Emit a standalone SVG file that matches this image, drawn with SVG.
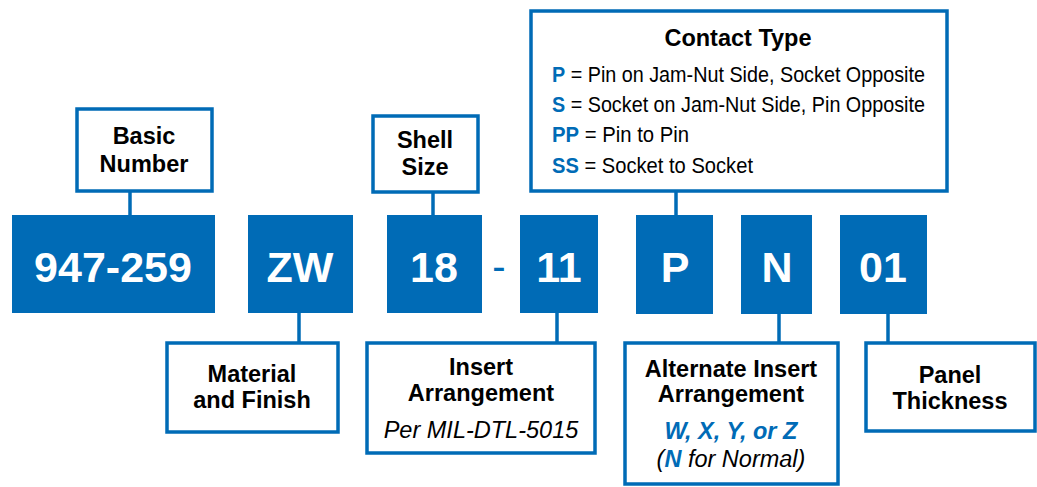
<svg xmlns="http://www.w3.org/2000/svg" width="1037" height="487" viewBox="0 0 1037 487">
<style>
.code{fill:#006BB6}
.codetxt{font-family:"Liberation Sans",Arial,sans-serif;font-weight:bold;font-size:43px;fill:#fff;text-anchor:middle}
.box{fill:#fff;stroke:#006BB6;stroke-width:3.5}
.lbl{font-family:"Liberation Sans",Arial,sans-serif;font-weight:bold;font-size:23.5px;fill:#000;text-anchor:middle}
.it{font-family:"Liberation Sans",Arial,sans-serif;font-style:italic;font-size:23.5px;fill:#000;text-anchor:middle}
.reg{font-family:"Liberation Sans",Arial,sans-serif;font-size:21.5px;fill:#000}
.blue{fill:#006BB6;font-weight:bold}
.conn line{stroke:#006BB6;stroke-width:3.5}
</style>
<g class="conn" id="connectors">
<line x1="130" y1="192" x2="130" y2="216"/>
<line x1="433" y1="193" x2="433" y2="216"/>
<line x1="676" y1="192" x2="676" y2="216"/>
<line x1="299" y1="312" x2="299" y2="342"/>
<line x1="557" y1="312" x2="557" y2="342"/>
<line x1="779" y1="312" x2="779" y2="342"/>
<line x1="888" y1="312" x2="888" y2="342"/>
</g>
<g id="code-947-259"><rect class="code" x="12" y="215" width="203" height="98"/><text class="codetxt" x="113" y="282">947-259</text></g>
<g id="code-ZW"><rect class="code" x="248" y="215" width="105" height="98"/><text class="codetxt" x="300" y="282">ZW</text></g>
<g id="code-18"><rect class="code" x="387" y="215" width="95" height="98"/><text class="codetxt" x="434" y="282">18</text></g>
<g id="dash"><text x="499" y="280" style="font-family:'Liberation Sans',Arial,sans-serif;font-size:40px;fill:#006BB6;text-anchor:middle">-</text></g>
<g id="code-11"><rect class="code" x="520" y="215" width="78" height="98"/><text class="codetxt" x="559" y="282">11</text></g>
<g id="code-P"><rect class="code" x="636" y="215" width="77" height="99"/><text class="codetxt" x="675" y="282">P</text></g>
<g id="code-N"><rect class="code" x="741" y="215" width="71" height="99"/><text class="codetxt" x="777" y="282">N</text></g>
<g id="code-01"><rect class="code" x="840" y="215" width="87" height="99"/><text class="codetxt" x="883" y="282">01</text></g>

<g id="basic-number"><rect class="box" x="77" y="109" width="135" height="82"/><text class="lbl" x="144" y="144">Basic</text><text class="lbl" x="144" y="172">Number</text></g>
<g id="shell-size"><rect class="box" x="373" y="116" width="105" height="76"/><text class="lbl" x="425" y="148">Shell</text><text class="lbl" x="425" y="175">Size</text></g>
<g id="contact-type"><rect class="box" x="531" y="11" width="416" height="180"/>
<text class="lbl" x="738" y="46">Contact Type</text>
<text class="reg" x="552" y="82" textLength="373" lengthAdjust="spacingAndGlyphs"><tspan class="blue">P</tspan> = Pin on Jam-Nut Side, Socket Opposite</text>
<text class="reg" x="552" y="112" textLength="373" lengthAdjust="spacingAndGlyphs"><tspan class="blue">S</tspan> = Socket on Jam-Nut Side, Pin Opposite</text>
<text class="reg" x="552" y="142" textLength="137" lengthAdjust="spacingAndGlyphs"><tspan class="blue">PP</tspan> = Pin to Pin</text>
<text class="reg" x="552" y="173" textLength="201" lengthAdjust="spacingAndGlyphs"><tspan class="blue">SS</tspan> = Socket to Socket</text>
</g>
<g id="material-finish"><rect class="box" x="167" y="343" width="171" height="89"/><text class="lbl" x="252" y="382">Material</text><text class="lbl" x="252" y="408">and Finish</text></g>
<g id="insert-arrangement"><rect class="box" x="367" y="343" width="228" height="110"/><text class="lbl" x="481" y="375">Insert</text><text class="lbl" x="481" y="401">Arrangement</text><text class="it" x="481" y="438">Per MIL-DTL-5015</text></g>
<g id="alt-insert"><rect class="box" x="625" y="343" width="213" height="141"/><text class="lbl" x="731" y="377">Alternate Insert</text><text class="lbl" x="731" y="402">Arrangement</text><text class="it" x="731" y="439" style="fill:#006BB6;font-weight:bold">W, X, Y, or Z</text><text class="it" x="731" y="467">(<tspan style="fill:#006BB6;font-weight:bold">N</tspan> for Normal)</text></g>
<g id="panel-thickness"><rect class="box" x="866" y="343" width="169" height="88"/><text class="lbl" x="950" y="383">Panel</text><text class="lbl" x="950" y="409">Thickness</text></g>
</svg>
